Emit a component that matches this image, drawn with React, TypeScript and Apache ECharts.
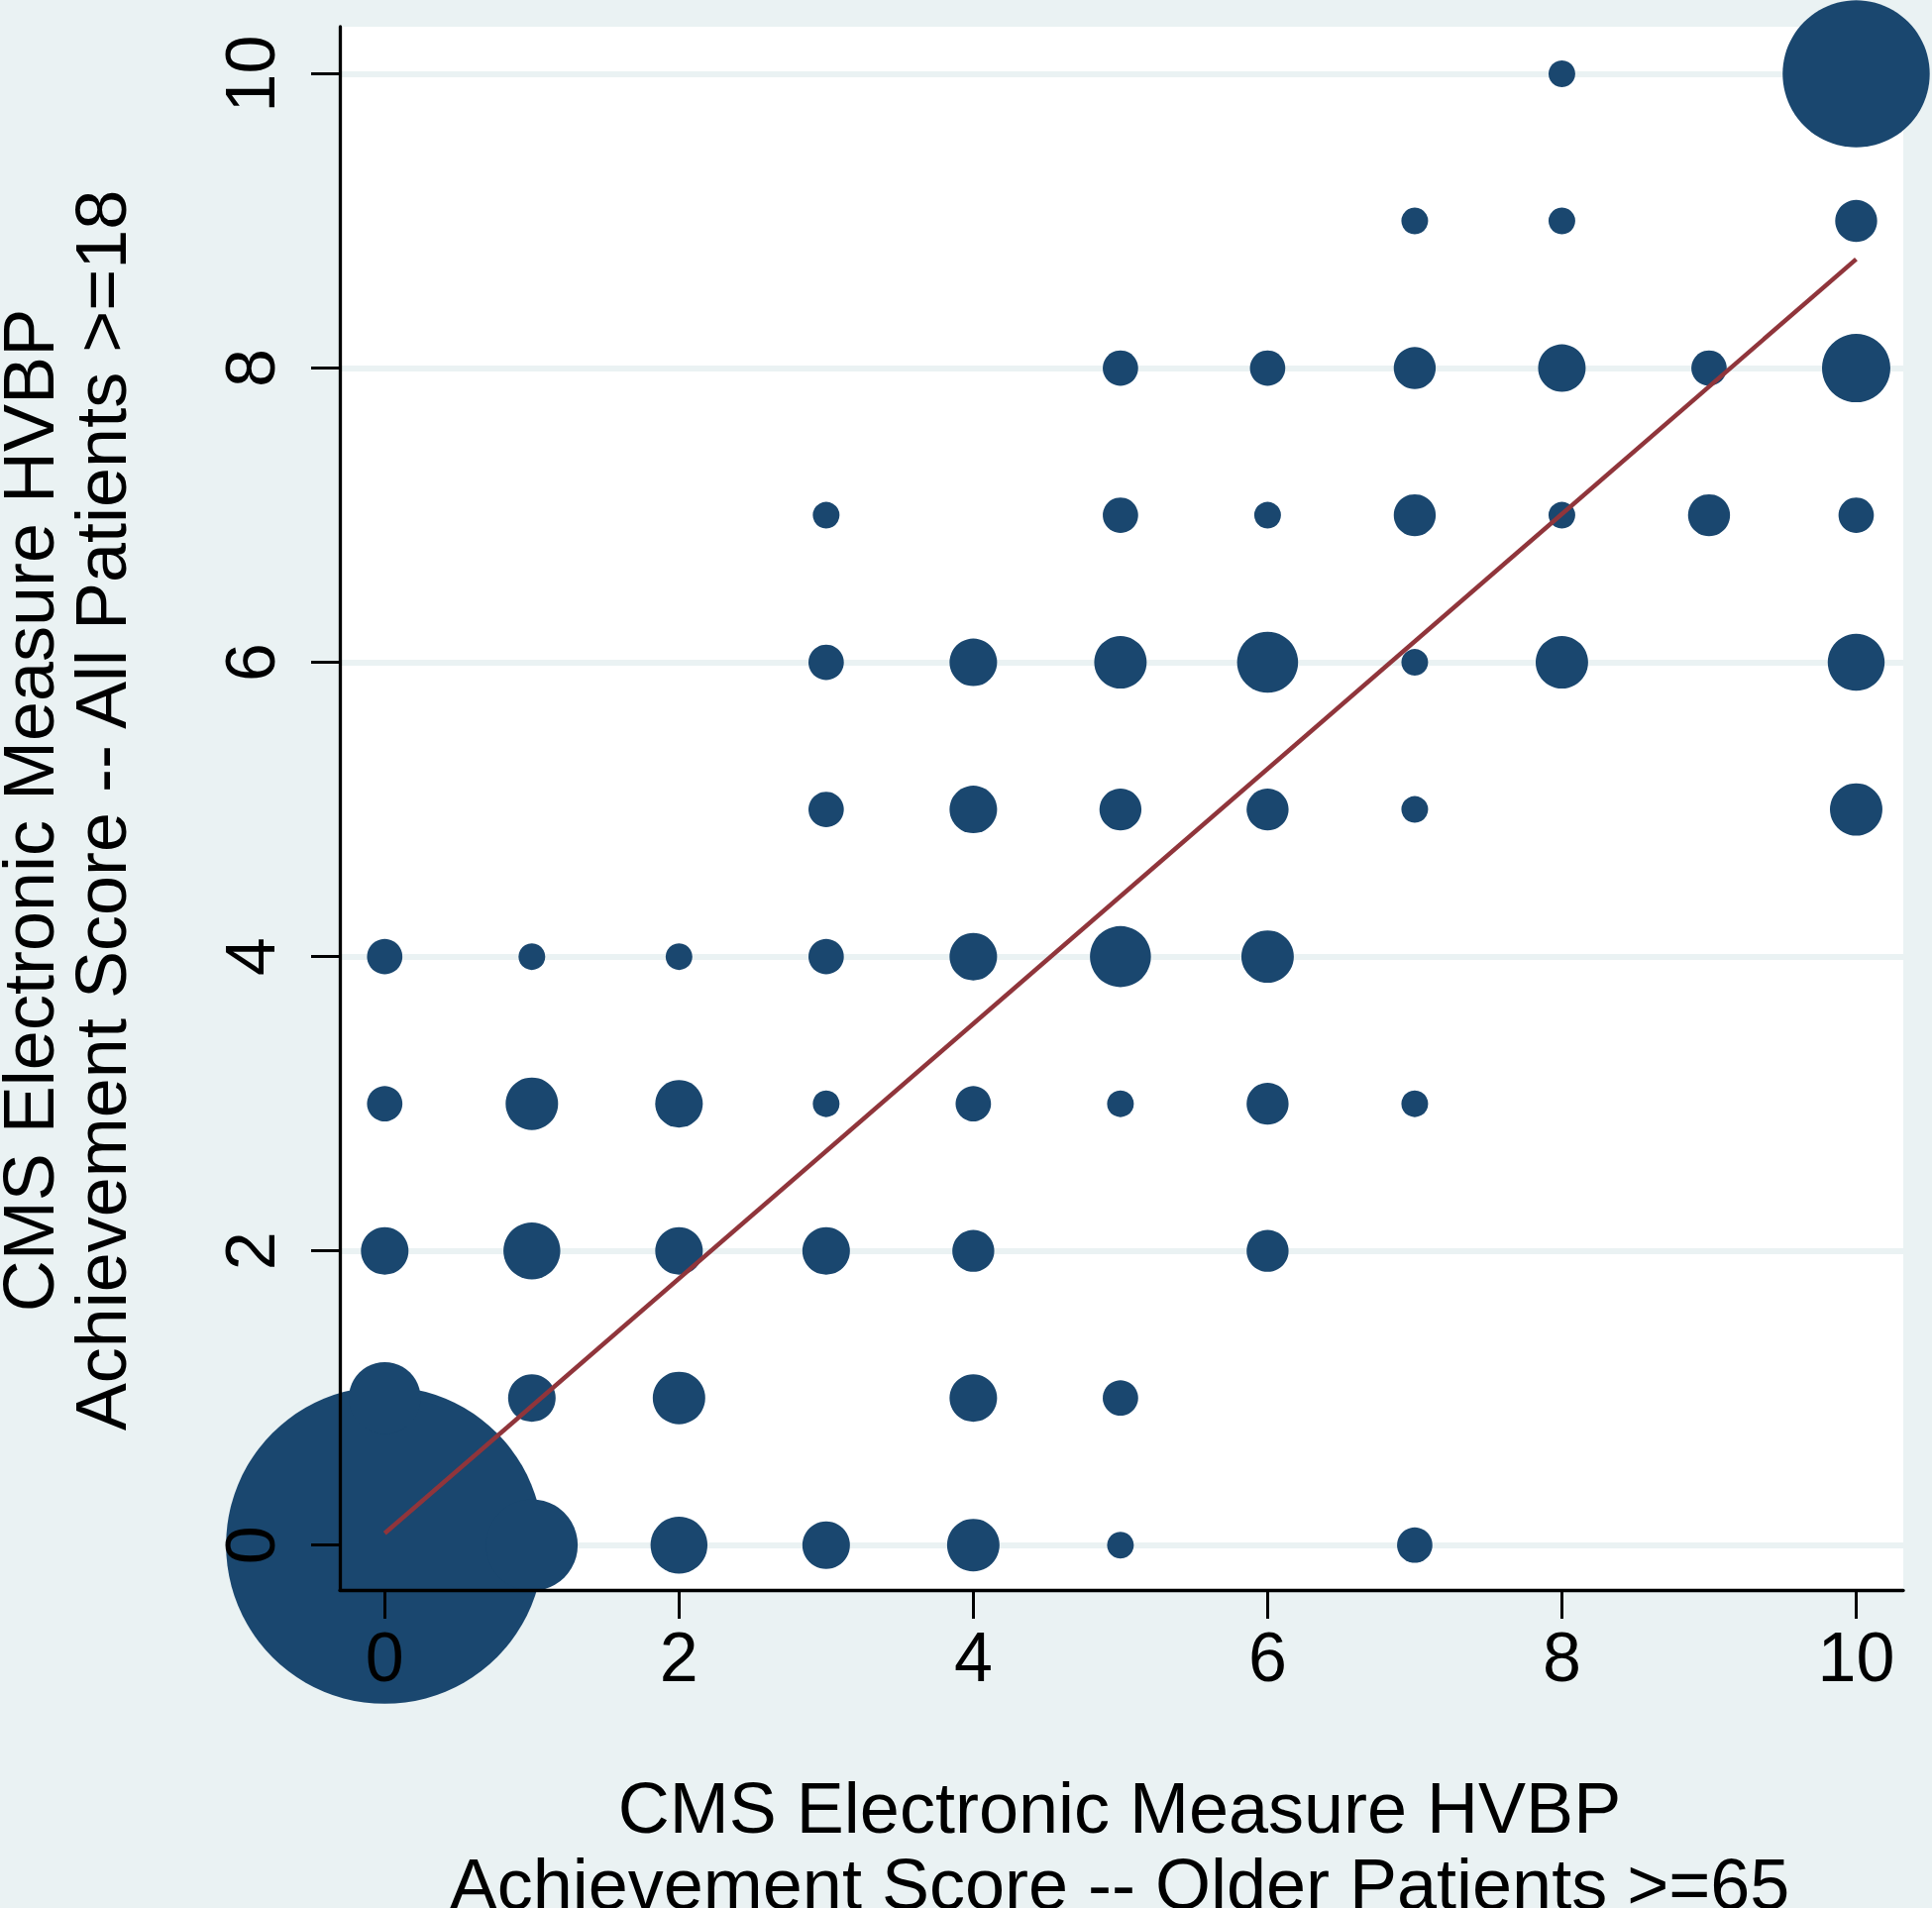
import React, { useEffect, useRef } from "react";
import * as echarts from "echarts";

// Older patients >=65 score (x), all patients >=18 score (y), number of hospitals (bubble weight)
const olderScore = [0, 1, 2, 3, 4, 5, 7, 0, 1, 2, 4, 5, 0, 1, 2, 3, 4, 6, 0, 1, 2, 3, 4, 5, 6, 7, 0, 1, 2, 3, 4, 5, 6, 3, 4, 5, 6, 7, 10, 3, 4, 5, 6, 7, 8, 10, 3, 5, 6, 7, 8, 9, 10, 5, 6, 7, 8, 9, 10, 7, 8, 10, 8, 10];
const allScore = [0, 0, 0, 0, 0, 0, 0, 1, 1, 1, 1, 1, 2, 2, 2, 2, 2, 2, 3, 3, 3, 3, 3, 3, 3, 3, 4, 4, 4, 4, 4, 4, 4, 5, 5, 5, 5, 5, 5, 6, 6, 6, 6, 6, 6, 6, 7, 7, 7, 7, 7, 7, 7, 8, 8, 8, 8, 8, 8, 9, 9, 9, 10, 10];
const hospitalCount = [224, 17, 6, 4, 5, 1, 2, 10, 4, 5, 4, 2, 4, 6, 4, 4, 3, 3, 2, 5, 4, 1, 2, 1, 3, 1, 2, 1, 1, 2, 4, 7, 5, 2, 4, 3, 3, 1, 5, 2, 4, 5, 7, 1, 5, 6, 1, 2, 1, 3, 1, 3, 2, 2, 2, 3, 4, 2, 9, 1, 1, 3, 1, 46];

// Linear fit line endpoints
const fitX = [0, 10];
const fitY = [0.08, 8.74];

const xTicks = [0, 2, 4, 6, 8, 10];
const yTicks = [0, 2, 4, 6, 8, 10];

const xTitle = ["CMS Electronic Measure HVBP", "Achievement Score -- Older Patients >=65"];
const yTitle = ["CMS Electronic Measure HVBP", "Achievement Score -- All Patients >=18"];

const NAVY = "#1a476f";
const MAROON = "#90353b";
const BG = "#eaf2f3";
const FONT = "'Liberation Sans', Arial, Helvetica, sans-serif";

export default function App() {
  const ref = useRef<HTMLDivElement>(null);
  useEffect(() => {
    if (!ref.current) return;
    const chart = echarts.init(ref.current, null, { renderer: "svg" });
    const bubbles = olderScore.map((x, i) => [x, allScore[i], hospitalCount[i]]);
    const fit = fitX.map((x, i) => [x, fitY[i]]);
    const axisMin = -0.305;
    const axisMax = 10.32;
    chart.setOption({
      animation: false,
      backgroundColor: BG,
      grid: {
        left: 343,
        top: 27,
        width: 1578,
        height: 1578,
        show: true,
        backgroundColor: "#ffffff",
        borderWidth: 0,
        containLabel: false,
        outerBoundsMode: "none",
      },
      xAxis: {
        type: "value",
        min: axisMin,
        max: axisMax,
        position: "bottom",
        z: 10,
        axisLine: { show: true, onZero: false, lineStyle: { color: "#000", width: 3.3 } },
        axisTick: { show: true, length: 29, lineStyle: { color: "#000", width: 3 }, customValues: xTicks },
        axisLabel: {
          show: true,
          customValues: xTicks,
          margin: 33,
          fontSize: 70,
          fontFamily: FONT,
          color: "#000",
        },
        splitLine: { show: false },
      },
      yAxis: [
        {
          type: "value",
          min: axisMin,
          max: axisMax,
          position: "left",
          z: 0,
          axisLine: { show: false },
          axisTick: { show: false, customValues: yTicks },
          axisLabel: { show: false, customValues: yTicks },
          splitLine: { show: true, lineStyle: { color: BG, width: 6 } },
        },
        {
          type: "value",
          min: axisMin,
          max: axisMax,
          position: "left",
          offset: 0,
          z: 10,
          axisLine: { show: true, onZero: false, lineStyle: { color: "#000", width: 3.3 } },
          axisTick: { show: true, length: 29, lineStyle: { color: "#000", width: 3 }, customValues: yTicks },
          axisLabel: {
            show: true,
            customValues: yTicks,
            rotate: 90,
            margin: 55,
            fontSize: 70,
            fontFamily: FONT,
            color: "#000",
          },
          splitLine: { show: false },
        },
      ],
      series: [
        {
          type: "scatter",
          yAxisIndex: 0,
          data: bubbles,
          clip: false,
          z: 2,
          symbol: "circle",
          symbolSize: (v: number[]) => 6 + 21 * Math.sqrt(v[2]),
          itemStyle: { color: NAVY, opacity: 1 },
          emphasis: { disabled: true },
        },
        {
          type: "line",
          yAxisIndex: 0,
          data: fit,
          z: 5,
          symbol: "none",
          lineStyle: { color: MAROON, width: 4.5 },
          emphasis: { disabled: true },
        },
      ],
      graphic: [
        {
          type: "text",
          x: 1130,
          y: 1825,
          style: { text: xTitle[0], fontSize: 72, fontFamily: FONT, fill: "#000", align: "center", verticalAlign: "middle" },
        },
        {
          type: "text",
          x: 1130,
          y: 1902,
          style: { text: xTitle[1], fontSize: 72, fontFamily: FONT, fill: "#000", align: "center", verticalAlign: "middle" },
        },
        {
          type: "text",
          x: 28.5,
          y: 818,
          rotation: Math.PI / 2,
          style: { text: yTitle[0], fontSize: 72, fontFamily: FONT, fill: "#000", align: "center", verticalAlign: "middle" },
        },
        {
          type: "text",
          x: 101.5,
          y: 818,
          rotation: Math.PI / 2,
          style: { text: yTitle[1], fontSize: 72, fontFamily: FONT, fill: "#000", align: "center", verticalAlign: "middle" },
        },
      ],
    });
    return () => chart.dispose();
  }, []);
  return (
    <div
      ref={ref}
      style={{ position: "fixed", left: 0, top: 0, width: 1950, height: 1926 }}
    />
  );
}
